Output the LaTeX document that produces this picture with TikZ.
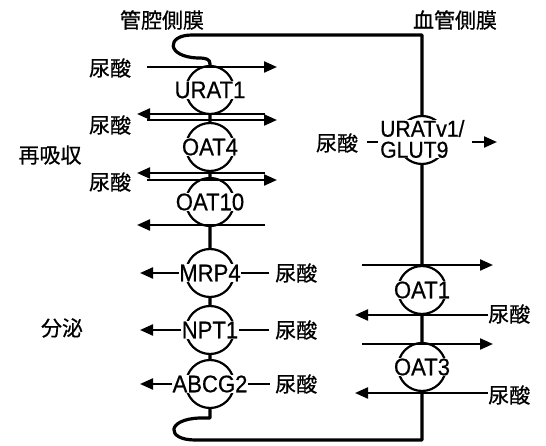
\documentclass[tikz,border=0pt]{standalone}
\usepackage{fontspec}
\setmainfont{Liberation Sans}[FakeStretch=0.92,FakeBold=0.6]
\newfontfamily\jp{Noto Sans CJK JP}[FakeBold=0.6]
\usetikzlibrary{arrows.meta}
\begin{document}
\begin{tikzpicture}[x=1pt,y=-1pt,
  mem/.style={line width=3.2pt,line join=round},
  ln/.style={line width=2.2pt},
  arr/.style={line width=2.2pt,-{Triangle[length=13pt,width=11pt]}},
  tp/.style={circle,draw,line width=2.2pt,fill=white,minimum size=48pt,inner sep=0pt},
  lab/.style={font=\fontsize{24}{24}\selectfont,fill=white,inner sep=0.5pt},
  jl/.style={font=\jp\fontsize{21}{21}\selectfont,inner sep=1pt}]
\useasboundingbox (0,0) rectangle (546,446);
% membrane
\draw[mem] (210,405) -- (210,418) -- (200,418)
  .. controls (166,419) and (166,440) .. (195,440) -- (422,440) -- (422,35) -- (192,35)
  .. controls (166,35) and (166,57) .. (198,58)
  .. controls (206,58) and (210,59) .. (210,64) -- (210,405);
% transporter circles
\node[tp] (c1) at (210,90) {};
\node[tp] (c2) at (210,147) {};
\node[tp] (c3) at (210,202) {};
\node[tp] (c4) at (210,273) {};
\node[tp] (c5) at (210,330) {};
\node[tp] (c6) at (210,384) {};
\node[tp] (c7) at (422,140) {};
\node[tp] (c8) at (422,290) {};
\node[tp] (c9) at (422,367) {};
% transporter names
\node[lab] (t1) at (c1) {URAT1};
\node[lab] (t2) at (c2) {OAT4};
\node[lab] (t3) at (c3) {OAT10};
\node[lab] (t4) at (c4) {MRP4};
\node[lab] (t5) at (c5) {NPT1};
\node[lab] (t6) at (c6) {ABCG2};
\node[lab,align=left,anchor=west,font=\fontsize{23}{21}\selectfont,inner sep=0pt] (t7) at (380,139) {URATv1/\\GLUT9};
\node[lab] (t8) at (c8) {OAT1};
\node[lab] (t9) at (c9) {OAT3};
% headings
\node[jl] (h1) at (162,20) {管腔側膜};
\node[jl] (h2) at (455,20) {血管側膜};
\node[jl] (h3) at (50,155) {再吸収};
\node[jl] (h4) at (62,328) {分泌};
% reabsorption (left)
\node[jl] (u1) at (110,68) {尿酸};
\node[jl] (u2) at (110,125) {尿酸};
\node[jl] (u3) at (110,182) {尿酸};
\coordinate (a1s) at (147,67);  \coordinate (a1e) at (277,67);
\coordinate (a2s) at (265,114); \coordinate (a2e) at (137,114);
\coordinate (a3s) at (147,120); \coordinate (a3e) at (277,120);
\coordinate (a4s) at (265,173); \coordinate (a4e) at (137,173);
\coordinate (a5s) at (147,180); \coordinate (a5e) at (277,180);
\coordinate (a6s) at (265,225); \coordinate (a6e) at (137,225);
\draw[arr] (a1s) -- (a1e);
\draw[arr] (a2s) -- (a2e);
\draw[arr] (a3s) -- (a3e);
\draw[arr] (a4s) -- (a4e);
\draw[arr] (a5s) -- (a5e);
\draw[arr] (a6s) -- (a6e);
% secretion (left)
\node[jl,anchor=west] (s1) at (274,273) {尿酸};
\node[jl,anchor=west] (s2) at (274,330) {尿酸};
\node[jl,anchor=west] (s3) at (274,384) {尿酸};
\coordinate (e1) at (140,273); \coordinate (e2) at (140,330); \coordinate (e3) at (140,384);
\draw[arr] (t4.west) -- (e1);
\draw[arr] (t5.west) -- (e2);
\draw[arr] (t6.west) -- (e3);
\draw[ln,shorten >=5pt] (t4.east) -- (s1.west);
\draw[ln,shorten >=5pt] (t5.east) -- (s2.west);
\draw[ln,shorten >=4pt] (t6.east) -- (s3.west);
% basolateral (right)
\node[jl] (g1) at (337,143) {尿酸};
\coordinate (gd1) at (367,142); \coordinate (gd2) at (378,142);
\draw[ln] (gd1) -- (gd2);
\coordinate (ga1) at (472,142); \coordinate (ga2) at (497,142);
\draw[arr] (ga1) -- (ga2);
\node[jl,anchor=west] (r1) at (487,314) {尿酸};
\node[jl,anchor=west] (r2) at (487,395) {尿酸};
\coordinate (b1s) at (362,265); \coordinate (b1e) at (493,265);
\coordinate (b2s) at (488,315); \coordinate (b2e) at (355,315);
\coordinate (b3s) at (362,344); \coordinate (b3e) at (493,344);
\coordinate (b4s) at (488,393); \coordinate (b4e) at (355,393);
\draw[arr] (b1s) -- (b1e);
\draw[arr] (b2s) -- (b2e);
\draw[arr] (b3s) -- (b3e);
\draw[arr] (b4s) -- (b4e);
\end{tikzpicture}
\end{document}
